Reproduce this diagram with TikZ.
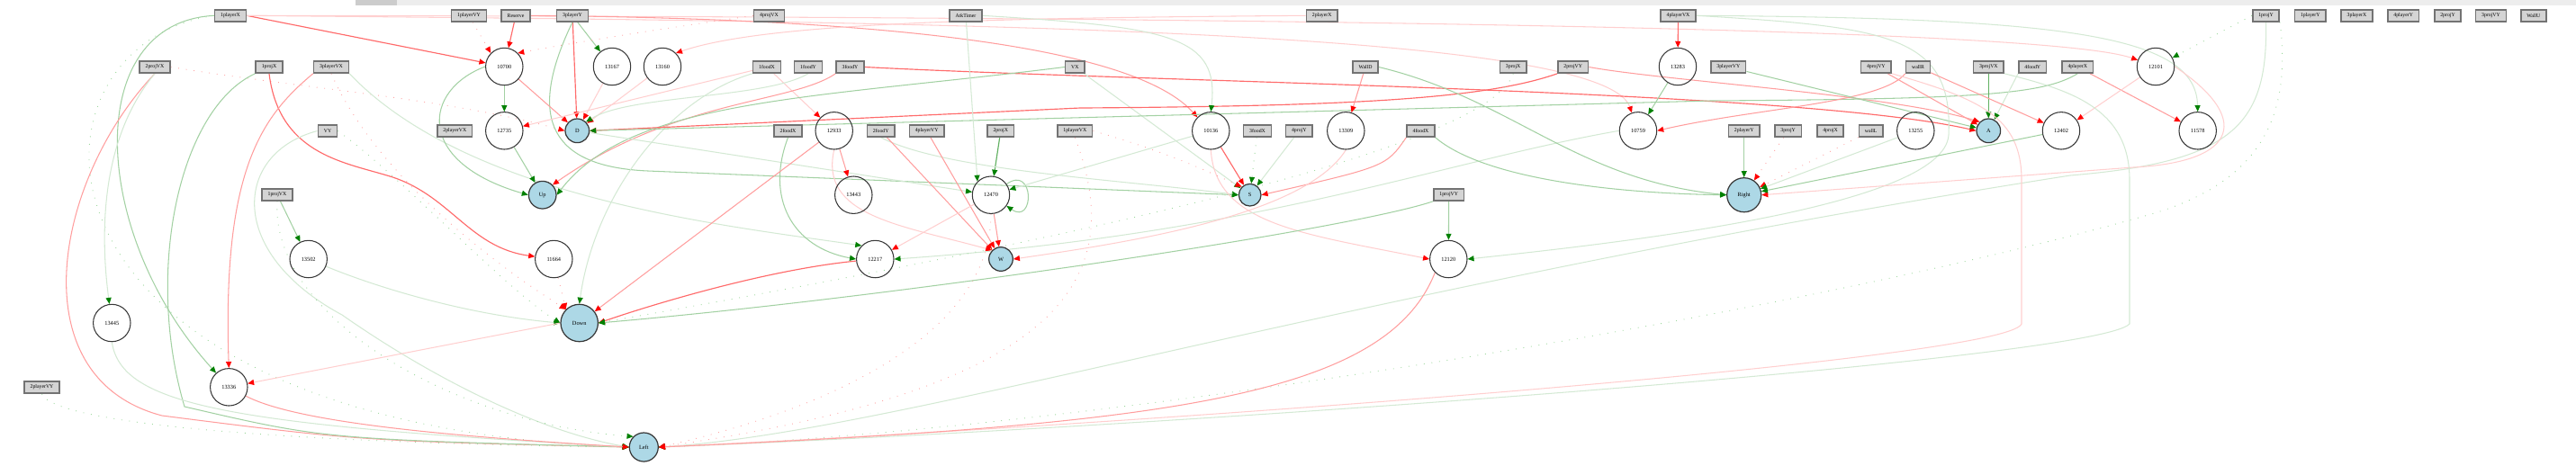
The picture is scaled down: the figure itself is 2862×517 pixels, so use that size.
\documentclass[tikz,border=0pt]{standalone}
\usepackage{fontspec}
\setmainfont{Liberation Serif}
\usetikzlibrary{arrows.meta}
\definecolor{lblue}{RGB}{173,216,230}
\newcommand\boxfont{\fontsize{1.65pt}{2pt}\selectfont}
\newcommand\circfont{\fontsize{1.8pt}{2pt}\selectfont}
\pgfdeclarelayer{bg}
\pgfsetlayers{bg,main}
\tikzset{
 ib/.style={draw=black!55, line width=0.45pt, fill=black!17, minimum height=0.13cm, inner xsep=0.065cm, inner ysep=0pt, font=\boxfont},
 hid/.style={circle, draw=black!78, line width=0.3pt, minimum size=0.414cm, inner sep=0pt, font=\circfont},
 ob/.style={circle, draw=black!78, fill=lblue, line width=0.35pt, inner sep=0pt, font=\circfont},
 tipg/.style={-{Triangle[length=0.07cm,width=0.06cm,color=green!50!black]}},
 tipr/.style={-{Triangle[length=0.07cm,width=0.06cm,color=red]}},
 gs/.style={draw=green!50!black!62, line width=0.33pt, tipg},
 gm/.style={draw=green!50!black!36, line width=0.3pt, tipg},
 gf/.style={draw=green!50!black!17, line width=0.3pt, tipg},
 rs/.style={draw=red!58, line width=0.33pt, tipr},
 rm/.style={draw=red!38, line width=0.3pt, tipr},
 rf/.style={draw=red!19, line width=0.3pt, tipr},
 gd/.style={draw=green!60!black!38, line width=0.26pt, dash pattern=on 0.25pt off 2.2pt, tipg},
 rd/.style={draw=red!35, line width=0.26pt, dash pattern=on 0.25pt off 2.2pt, tipr},
}
\begin{document}
\begin{tikzpicture}[x=0.01cm,y=-0.01cm]
\useasboundingbox (0,0) rectangle (2862,517);
\fill[black!7] (395,0) rectangle (2862,6);
\fill[black!20] (395,0) rectangle (441,6);
% input boxes row 1
\node[ib] (b1playerX) at (256,17.3) {1playerX};
\node[ib] (b1playerVY) at (521,17.3) {1playerVY};
\node[ib] (bReserve) at (573,17.3) {Reserve};
\node[ib] (b3playerY) at (636,17.3) {3playerY};
\node[ib] (b4projVX) at (854.5,17.3) {4projVX};
\node[ib] (bAtkTimer) at (1073,17.3) {AtkTimer};
\node[ib] (b2playerX) at (1468.7,17.3) {2playerX};
\node[ib] (b4playerVX) at (1864.5,17.3) {4playerVX};
\node[ib] (b1projY) at (2517.5,17.3) {1projY};
\node[ib] (b1playerY) at (2566.8,17.3) {1playerY};
\node[ib] (b3playerX) at (2618.5,17.3) {3playerX};
\node[ib] (b4playerY) at (2670.2,17.3) {4playerY};
\node[ib] (b2projY) at (2719.5,17.3) {2projY};
\node[ib] (b3projVY) at (2767.5,17.3) {3projVY};
\node[ib] (bWallU) at (2814.8,17.3) {WallU};
% row 2
\node[ib] (b2projVX) at (172,74.5) {2projVX};
\node[ib] (b1projX) at (299,74.5) {1projX};
\node[ib] (b3playerVX) at (368,74.5) {3playerVX};
\node[ib] (b1foodX) at (852,74.5) {1foodX};
\node[ib] (b1foodY) at (898,74.5) {1foodY};
\node[ib] (b3foodY) at (944.5,74.5) {3foodY};
\node[ib] (bVX) at (1194.3,74.5) {VX};
\node[ib] (bWallD) at (1517,74.5) {WallD};
\node[ib] (b3projX) at (1681.2,74.5) {3projX};
\node[ib] (b2projVY) at (1747.8,74.5) {2projVY};
\node[ib] (b3playerVY) at (1920.3,74.5) {3playerVY};
\node[ib] (b4projVY) at (2084.3,74.5) {4projVY};
\node[ib] (bwallR) at (2131,74.5) {wallR};
\node[ib] (b3projVX) at (2209.3,74.5) {3projVX};
\node[ib] (b4foodY) at (2258.3,74.5) {4foodY};
\node[ib] (b4playerX) at (2308.3,74.5) {4playerX};
% row 3
\node[ib] (bVY) at (364,145.5) {VY};
\node[ib] (b2playerVX) at (505.3,145.5) {2playerVX};
\node[ib] (b2foodX) at (875.5,145.5) {2foodX};
\node[ib] (b2foodY) at (978.7,145.5) {2foodY};
\node[ib] (b4playerVY) at (1029.7,145.5) {4playerVY};
\node[ib] (b2projX) at (1111.8,145.5) {2projX};
\node[ib] (b1playerVX) at (1194.3,145.5) {1playerVX};
\node[ib] (b3foodX) at (1397,145.5) {3foodX};
\node[ib] (b4projY) at (1443.3,145.5) {4projY};
\node[ib] (b4foodX) at (1578.5,145.5) {4foodX};
\node[ib] (b2playerY) at (1937.7,145.5) {2playerY};
\node[ib] (b3projY) at (1986.7,145.5) {3projY};
\node[ib] (b4projX) at (2033.5,145.5) {4projX};
\node[ib] (bwallL) at (2078.7,145.5) {wallL};
% row 4
\node[ib] (b1projVX) at (308,216.5) {1projVX};
\node[ib] (b1projVY) at (1609.7,216.5) {1projVY};
\node[ib] (b2playerVY) at (46.5,430.5) {2playerVY};
% hidden nodes
\node[hid] (h10700) at (560.3,74) {10700};
\node[hid] (h13167) at (680,74) {13167};
\node[hid] (h13160) at (736,74) {13160};
\node[hid] (h13283) at (1864,74) {13283};
\node[hid] (h12101) at (2395,74) {12101};
\node[hid] (h12735) at (560.3,145.3) {12735};
\node[hid] (h12933) at (926.7,145.3) {12933};
\node[hid] (h10136) at (1345.3,145.3) {10136};
\node[hid] (h13309) at (1495.3,145.3) {13309};
\node[hid] (h10759) at (1820,145.3) {10759};
\node[hid] (h13255) at (2128.3,145.3) {13255};
\node[hid] (h12402) at (2290,145.3) {12402};
\node[hid] (h11578) at (2441.7,145.3) {11578};
\node[hid] (h13443) at (948.3,216.7) {13443};
\node[hid] (h12470) at (1101,216.7) {12470};
\node[hid] (h13502) at (342.7,288) {13502};
\node[hid] (h11664) at (615.3,288) {11664};
\node[hid] (h12217) at (972.3,288) {12217};
\node[hid] (h12120) at (1609.3,288) {12120};
\node[hid] (h13445) at (124.3,359) {13445};
\node[hid] (h13336) at (254.3,430.3) {13336};
% outputs
\node[ob,minimum size=0.266cm] (D) at (641.3,145.3) {D};
\node[ob,minimum size=0.306cm] (Up) at (602.7,216.7) {Up};
\node[ob,minimum size=0.246cm] (S) at (1388.7,216.7) {S};
\node[ob,minimum size=0.266cm] (A) at (2209.3,145.3) {A};
\node[ob,minimum size=0.38cm] (Right) at (1937.7,216.7) {Right};
\node[ob,minimum size=0.266cm] (W) at (1112,288) {W};
\node[ob,minimum size=0.414cm] (Down) at (643.7,359) {Down};
\node[ob,minimum size=0.32cm] (Left) at (715.3,497) {Left};
\begin{pgfonlayer}{bg}
% left region
\draw[gm] (b1playerX.west) .. controls (90,25) and (100,260) .. (h13336);
\draw[rs] (b1playerX.east) -- (h10700);
\draw[rf] (b1playerX.east) .. controls (900,18) and (2250,22) .. (h12101);
\draw[rf] (b1playerX.east) .. controls (1000,24) and (1780,30) .. (h10759);
\draw[gd] (b1playerX.west) .. controls (10,50) and (0,470) .. (Left.west);
\draw[rm] (b2projVX.south) .. controls (60,200) and (20,420) .. (180,462) .. controls (400,490) .. (Left.west);
\draw[gf] (b2projVX.south) .. controls (115,150) and (110,250) .. (h13445);
\draw[rd] (b2projVX.east) .. controls (350,100) and (500,110) .. (D.west);
\draw[gm] (b1projX.south west) .. controls (200,120) and (160,300) .. (205,452) .. controls (360,488) .. (Left.west);
\draw[rs] (b1projX.south) .. controls (310,170) and (380,180) .. (430,195) .. controls (500,215) and (520,275) .. (h11664);
\draw[rm] (b3playerVX.south west) .. controls (290,130) and (247,190) .. (h13336.north);
\draw[gf] (b3playerVX.south east) .. controls (520,220) and (800,250) .. (h12217.north west);
\draw[rd] (b3playerVX.south) .. controls (420,200) and (560,300) .. (Down.north west);
\draw[gf] (bVY.west) .. controls (260,170) and (250,280) .. (380,350) .. controls (480,420) and (600,480) .. (Left.west);
\draw[gd] (bVY.east) .. controls (450,200) and (560,320) .. (Down.west);
\draw[gm] (b1projVX) -- (h13502);
\draw[gd] (b1projVX.south) .. controls (300,350) and (500,470) .. (Left.north west);
\draw[gd] (b2playerVY.south) .. controls (60,470) and (300,492) .. (Left.west);
\draw[gf] (h13445.south) .. controls (135,450) and (250,472) .. (Left.west);
\draw[rm] (h13336) .. controls (330,470) and (500,485) .. (Left.west);
\draw[gf] (h13502) .. controls (420,320) and (520,350) .. (Down.west);
\draw[rf] (Down.west) -- (h13336);
\draw[rd] (h11664) -- (Down.north west);
% middle
\draw[rd] (b1playerVY) -- (h10700.north west);
\draw[rs] (bReserve) -- (h10700);
\draw[rm] (bReserve.east) .. controls (900,20) and (1250,40) .. (h10136.north west);
\draw[rs] (b3playerY) -- (D);
\draw[gm] (b3playerY) -- (h13167);
\draw[gm] (b3playerY.south) .. controls (590,120) and (600,185) .. (720,190) -- (S.west);
\draw[gm] (h10700) -- (h12735);
\draw[rm] (h10700) -- (D);
\draw[gm] (h10700.west) .. controls (470,100) and (460,180) .. (Up.west);
\draw[gm] (h12735) -- (Up);
\draw[rf] (h13167) -- (D);
\draw[rf] (h13160) -- (D);
\draw[rf] (b1foodX) -- (h12735);
\draw[rf] (b1foodX) -- (h12933);
\draw[gf] (b1foodX.south west) .. controls (740,110) and (660,220) .. (Down.north);
\draw[gf] (b1foodY.south) .. controls (850,110) and (700,105) .. (D.north east);
\draw[rm] (b3foodY.south west) .. controls (880,115) and (750,110) .. (Up.north east);
\draw[rs] (b3foodY.east) .. controls (1300,92) and (2000,100) .. (A.west);
\draw[gm] (bVX.west) .. controls (900,110) and (700,110) .. (Up.east);
\draw[gf] (bVX) -- (S);
\draw[rs] (b2projVY.south west) .. controls (1650,110) and (1500,118) .. (1200,120) -- (D.east);
\draw[rm] (b2projVY.east) .. controls (1850,90) and (2100,105) .. (A.north west);
\draw[gm] (b4playerX.south) .. controls (2270,105) and (2200,110) .. (1900,112) -- (D.east);
\draw[gf] (D) -- (h12470);
\draw[gm] (b2foodX.south) .. controls (850,220) and (880,275) .. (h12217.west);
\draw[rm] (h12933) -- (Down);
\draw[rf] (h12933.south) .. controls (910,240) and (1000,250) .. (W.north west);
\draw[rm] (h12933) -- (h13443);
\draw[rd] (b4projVX.west) .. controls (750,30) and (650,45) .. (h10700.north east);
\draw[rf] (b2playerX.west) .. controls (1100,20) and (850,25) .. (h13160.north east);
\draw[gf] (bAtkTimer) -- (h12470.north west);
\draw[gf] (bAtkTimer.east) .. controls (1300,30) and (1355,40) .. (h10136.north);
\draw[gs] (b2projX) -- (h12470);
\draw[gf] (b2foodY.south) .. controls (1050,190) and (1250,200) .. (S.west);
\draw[rm] (b2foodY) -- (W);
\draw[rm] (b4playerVY) -- (W);
\draw[gm] (h12470) to[out=35,in=-35,looseness=4] (h12470);
\draw[rm] (h12470) -- (W);
\draw[rf] (h12470) -- (h12217);
\draw[gf] (h10136) -- (h12470);
\draw[rs] (h10136) -- (S);
\draw[rf] (h10136.south) .. controls (1350,250) and (1450,260) .. (h12120.west);
\draw[gd] (b3foodX) -- (S);
\draw[gf] (b4projY) -- (S);
\draw[rd] (b1playerVX.east) .. controls (1300,170) and (1340,190) .. (S.north west);
\draw[rd] (b1playerVX.south) .. controls (1250,300) and (1200,430) .. (Left.east);
\draw[rd] (h12470.south) .. controls (1100,380) and (900,460) .. (Left.east);
\draw[rm] (b4foodX.south west) .. controls (1540,185) .. (S.east);
\draw[rs] (h12217) .. controls (850,300) and (720,340) .. (Down.east);
\draw[gf] (h10759.west) .. controls (1600,180) and (1400,260) .. (h12217.east);
\draw[rf] (h13309.south) .. controls (1450,240) and (1250,270) .. (W.east);
\draw[gd] (b3projX.south) .. controls (1650,180) and (1000,300) .. (Down.east);
% right region
\draw[rm] (bWallD) -- (h13309);
\draw[gm] (bWallD.east) .. controls (1680,110) and (1750,200) .. (Right.west);
\draw[gm] (b4foodX.south east) .. controls (1650,200) and (1800,215) .. (Right.west);
\draw[rs] (b4playerVX) -- (h13283);
\draw[gm] (h13283) -- (h10759);
\draw[rm] (bwallR.south west) .. controls (2090,115) and (1950,120) .. (h10759.east);
\draw[gm] (b1projVY) -- (h12120);
\draw[gm] (b1projVY.south west) .. controls (1500,255) and (1000,330) .. (Down.east);
\draw[gm] (b3playerVY) -- (A);
\draw[rm] (b4projVY) -- (A);
\draw[gs] (b3projVX) -- (A);
\draw[gf] (b4foodY.south west) -- (A);
\draw[rm] (b4playerX) -- (h11578);
\draw[gf] (b4playerVX.east) .. controls (2300,20) and (2440,40) .. (h11578.north);
\draw[gf] (b4playerVX.east) .. controls (2100,30) and (2170,40) .. (2165,150) .. controls (2160,230) and (1800,270) .. (h12120.east);
\draw[gd] (b1projY.west) -- (h12101);
\draw[gf] (b1projY.south) .. controls (2520,140) and (2480,180) .. (2300,195) .. controls (1500,320) and (1000,480) .. (Left.east);
\draw[gd] (b1projY.south east) .. controls (2545,120) and (2520,200) .. (2390,238) .. controls (2000,350) and (1200,480) .. (Left.east);
\draw[rf] (h12101.east) .. controls (2500,130) and (2490,180) .. (2370,186) -- (Right.east);
\draw[rf] (h12101) -- (h12402);
\draw[rm] (bwallR) -- (h12402);
\draw[gf] (b3projVX.south east) .. controls (2300,100) and (2366,120) .. (2366,200) -- (2366,360) .. controls (2330,400) and (1300,475) .. (Left.east);
\draw[rf] (b4projVY.south east) .. controls (2200,110) and (2246,130) .. (2246,200) -- (2246,360) .. controls (2230,400) and (1300,470) .. (Left.east);
\draw[rm] (h12120.south west) .. controls (1540,440) and (1300,472) .. (Left.east);
\draw[gm] (b2playerY) -- (Right);
\draw[rd] (b3projY) -- (Right);
\draw[rd] (bwallL) -- (Right);
\draw[gf] (h13255) -- (Right);
\draw[gm] (h12402) -- (Right);
\end{pgfonlayer}
\end{tikzpicture}
\end{document}
